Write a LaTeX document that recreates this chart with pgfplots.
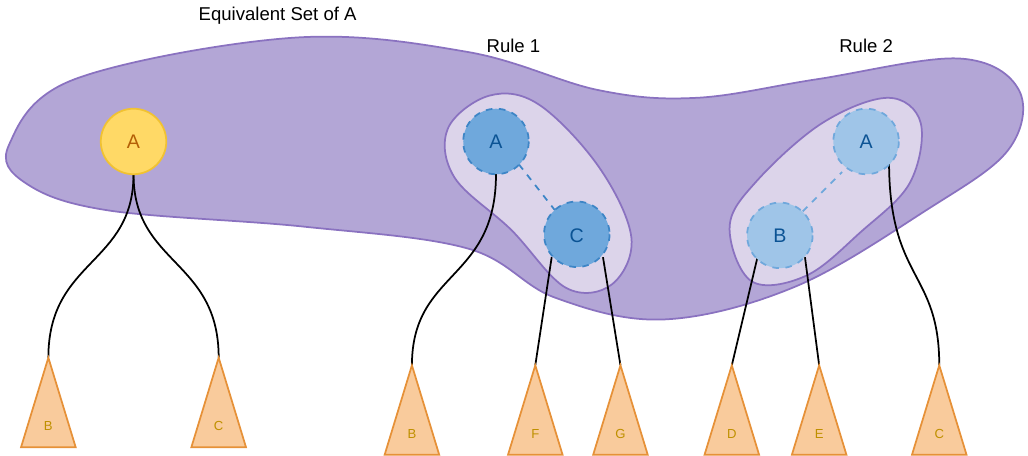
\documentclass[border=0pt]{standalone}
\usepackage{pgfplots}
\pgfplotsset{compat=1.18}
\usepackage{fontspec}
\setmainfont{Liberation Sans}
\definecolor{blobf}{HTML}{B3A6D6}
\definecolor{blobs}{HTML}{8A72C0}
\definecolor{inf}{HTML}{DCD4EA}
\definecolor{ylf}{HTML}{FFD966}
\definecolor{yls}{HTML}{F1C232}
\definecolor{ylt}{HTML}{B45F06}
\definecolor{b1f}{HTML}{6FA8DC}
\definecolor{b1s}{HTML}{3D85C6}
\definecolor{b1t}{HTML}{0B5394}
\definecolor{b2f}{HTML}{9FC5E8}
\definecolor{trf}{HTML}{F9CB9C}
\definecolor{trs}{HTML}{E69138}
\definecolor{trt}{HTML}{BF9000}
\begin{document}
\begin{tikzpicture}
\begin{axis}[scale only axis, width=514pt, height=248.5pt, xmin=0, xmax=1028, ymin=0, ymax=497, y dir=reverse, axis lines=none, clip=false]
\addplot[smooth cycle, tension=0.6, fill=blobf, draw=blobs, thick] coordinates {(60,165) (120,105) (320,67) (480,80) (600,115) (690,122) (800,105) (930,86) (985,115) (975,170) (900,225) (780,295) (660,325) (560,305) (480,260) (330,240) (150,225) (75,200)};
\addplot[smooth cycle, tension=0.6, fill=inf, draw=blobs, thick] coordinates {(462,150) (500,120) (545,128) (600,185) (630,250) (612,293) (570,296) (520,243) (468,195)};
\addplot[smooth cycle, tension=0.6, fill=inf, draw=blobs, thick] coordinates {(720,240) (745,198) (805,145) (865,122) (895,145) (885,200) (840,245) (790,285) (740,290)};
% edges
\draw[thick] (axis cs:174,192) .. controls (axis cs:174,275) and (axis cs:96,270) .. (axis cs:96,360);
\draw[thick] (axis cs:174,192) .. controls (axis cs:174,275) and (axis cs:252,270) .. (axis cs:252,360);
\draw[thick] (axis cs:506,192) .. controls (axis cs:506,290) and (axis cs:429,280) .. (axis cs:429,367);
\draw[thick] (axis cs:557,268) -- (axis cs:542,367);
\draw[thick] (axis cs:604,268) -- (axis cs:620,367);
\draw[thick] (axis cs:746,266) -- (axis cs:722,367);
\draw[thick] (axis cs:789,268) -- (axis cs:802,367);
\draw[thick] (axis cs:866,180) .. controls (axis cs:866,290) and (axis cs:912,280) .. (axis cs:912,367);
\draw[thick, dashed, b1s] (axis cs:527,183) -- (axis cs:560,225);
\draw[thick, dashed, b1f] (axis cs:787,226) -- (axis cs:823,190);
% circles
\draw[thick, fill=ylf, draw=yls] (axis cs:174,162) circle[radius=30];
\draw[thick, dashed, fill=b1f, draw=b1s] (axis cs:506,162) circle[radius=30];
\draw[thick, dashed, fill=b1f, draw=b1s] (axis cs:580,247) circle[radius=30];
\draw[thick, dashed, fill=b2f, draw=b1f] (axis cs:845,162) circle[radius=30];
\draw[thick, dashed, fill=b2f, draw=b1f] (axis cs:766,248) circle[radius=30];
\node[font=\fontsize{9}{10}\selectfont, text=ylt] at (axis cs:174,162) {A};
\node[font=\fontsize{9}{10}\selectfont, text=b1t] at (axis cs:506,162) {A};
\node[font=\fontsize{9}{10}\selectfont, text=b1t] at (axis cs:580,248) {C};
\node[font=\fontsize{9}{10}\selectfont, text=b1t] at (axis cs:845,162) {A};
\node[font=\fontsize{9}{10}\selectfont, text=b1t] at (axis cs:766,248) {B};
% triangles
\addplot[thick, fill=trf, draw=trs] coordinates {(96,360) (121,442) (71,442)} -- cycle;
\addplot[thick, fill=trf, draw=trs] coordinates {(252,360) (277,442) (227,442)} -- cycle;
\addplot[thick, fill=trf, draw=trs] coordinates {(429,367) (454,449) (404,449)} -- cycle;
\addplot[thick, fill=trf, draw=trs] coordinates {(542,367) (567,449) (517,449)} -- cycle;
\addplot[thick, fill=trf, draw=trs] coordinates {(620,367) (645,449) (595,449)} -- cycle;
\addplot[thick, fill=trf, draw=trs] coordinates {(722,367) (747,449) (697,449)} -- cycle;
\addplot[thick, fill=trf, draw=trs] coordinates {(802,367) (827,449) (777,449)} -- cycle;
\addplot[thick, fill=trf, draw=trs] coordinates {(912,367) (937,449) (887,449)} -- cycle;
\node[font=\fontsize{6}{7}\selectfont, text=trt] at (axis cs:96,423) {B};
\node[font=\fontsize{6}{7}\selectfont, text=trt] at (axis cs:252,423) {C};
\node[font=\fontsize{6}{7}\selectfont, text=trt] at (axis cs:429,430) {B};
\node[font=\fontsize{6}{7}\selectfont, text=trt] at (axis cs:542,430) {F};
\node[font=\fontsize{6}{7}\selectfont, text=trt] at (axis cs:620,430) {G};
\node[font=\fontsize{6}{7}\selectfont, text=trt] at (axis cs:722,430) {D};
\node[font=\fontsize{6}{7}\selectfont, text=trt] at (axis cs:802,430) {E};
\node[font=\fontsize{6}{7}\selectfont, text=trt] at (axis cs:912,430) {C};
\node[font=\fontsize{8.5}{10}\selectfont] at (axis cs:306,47) {Equivalent Set of A};
\node[font=\fontsize{8.5}{10}\selectfont] at (axis cs:522,74) {Rule 1};
\node[font=\fontsize{8.5}{10}\selectfont] at (axis cs:845,74) {Rule 2};
\end{axis}
\end{tikzpicture}
\end{document}
